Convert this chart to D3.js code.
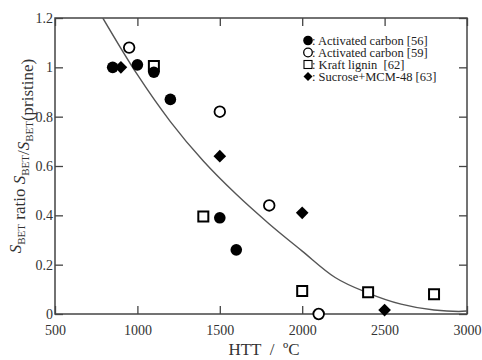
<!DOCTYPE html>
<html>
<head>
<meta charset="utf-8">
<script src="https://cdn.jsdelivr.net/npm/d3@7"></script>
<style>
  body { margin: 0; background: #fff; }
  svg { font-family: "Liberation Serif", "DejaVu Serif", serif; }
</style>
</head>
<body>
<svg id="chart" width="482" height="360"></svg>
<script>
// data
var activated56 = [[850, 1.0], [1000, 1.01], [1100, 0.98], [1200, 0.87], [1500, 0.39], [1600, 0.26]];
var activated59 = [[950, 1.08], [1500, 0.82], [1800, 0.44], [2100, 0.0]];
var kraftLignin = [[1100, 1.005], [1400, 0.395], [2000, 0.093], [2400, 0.088], [2800, 0.08]];
var sucroseMCM = [[900, 1.0], [1500, 0.64], [2000, 0.41], [2500, 0.016]];
// fitted trend line
var fitLine = [[790, 1.2], [1000, 0.97], [1200, 0.78], [1400, 0.62], [1600, 0.485], [1800, 0.365],
               [2000, 0.255], [2200, 0.148], [2400, 0.085], [2600, 0.04], [2800, 0.016], [2950, 0.01], [3000, 0.012]];
var xTicks = [500, 1000, 1500, 2000, 2500, 3000];
var yTicks = [0, 0.2, 0.4, 0.6, 0.8, 1.0, 1.2];
var legendLabels = [": Activated carbon [56]", ": Activated carbon [59]", ": Kraft lignin  [62]", ": Sucrose+MCM-48 [63]"];

var svg = d3.select("#chart");
var plotLeft = 55, plotRight = 467, plotTop = 18, plotBottom = 314;
var axisColor = "#444";

var x = d3.scaleLinear().domain([500, 3000]).range([plotLeft, plotRight]);
var y = d3.scaleLinear().domain([0, 1.2]).range([plotBottom, plotTop]);

// clip for the curve
svg.append("defs").append("clipPath").attr("id", "plotClip")
  .append("rect").attr("x", plotLeft).attr("y", plotTop)
  .attr("width", plotRight - plotLeft).attr("height", plotBottom - plotTop);

function styleAxis(g) {
  g.select(".domain").remove();
  g.selectAll(".tick line").attr("stroke", axisColor).attr("stroke-width", 1.3);
  g.selectAll(".tick text").attr("fill", "#333").attr("font-size", 14)
    .attr("font-family", "Liberation Serif, serif");
}

svg.append("g").attr("transform", "translate(0," + plotBottom + ")")
  .call(d3.axisBottom(x).tickValues(xTicks).tickSize(-8).tickPadding(11).tickFormat(d3.format("d")))
  .call(styleAxis);
svg.append("g").attr("transform", "translate(0," + plotTop + ")")
  .call(d3.axisTop(x).tickValues(xTicks).tickSize(-8).tickFormat(""))
  .call(styleAxis);
svg.append("g").attr("transform", "translate(" + plotLeft + ",0)")
  .call(d3.axisLeft(y).tickValues(yTicks).tickSize(-8).tickPadding(2).tickFormat(function(d) { return String(+d.toFixed(1)); }))
  .call(styleAxis);
svg.append("g").attr("transform", "translate(" + plotRight + ",0)")
  .call(d3.axisRight(y).tickValues(yTicks).tickSize(-8).tickFormat(""))
  .call(styleAxis);

// frame
svg.append("rect")
  .attr("x", plotLeft).attr("y", plotTop)
  .attr("width", plotRight - plotLeft).attr("height", plotBottom - plotTop)
  .attr("fill", "none").attr("stroke", axisColor).attr("stroke-width", 1.5);

// trend curve
var line = d3.line().x(function(d) { return x(d[0]); }).y(function(d) { return y(d[1]); })
  .curve(d3.curveMonotoneX);
svg.append("path")
  .datum(fitLine)
  .attr("clip-path", "url(#plotClip)")
  .attr("d", line)
  .attr("fill", "none")
  .attr("stroke", "#555")
  .attr("stroke-width", 1.4);

// markers
var square = d3.symbol().type(d3.symbolSquare).size(100);
var diamond = d3.symbol().type(d3.symbolSquare).size(80);

svg.append("g").selectAll("path")
  .data(kraftLignin)
  .join("path")
    .attr("d", square)
    .attr("transform", function(d) { return "translate(" + x(d[0]) + "," + y(d[1]) + ")"; })
    .attr("fill", "#fff").attr("stroke", "#000").attr("stroke-width", 2);

svg.append("g").selectAll("circle")
  .data(activated59)
  .join("circle")
    .attr("cx", function(d) { return x(d[0]); })
    .attr("cy", function(d) { return y(d[1]); })
    .attr("r", 5.3)
    .attr("fill", "#fff").attr("stroke", "#000").attr("stroke-width", 1.8);

svg.append("g").selectAll("circle")
  .data(activated56)
  .join("circle")
    .attr("cx", function(d) { return x(d[0]); })
    .attr("cy", function(d) { return y(d[1]); })
    .attr("r", 5.8)
    .attr("fill", "#000");

svg.append("g").selectAll("path")
  .data(sucroseMCM)
  .join("path")
    .attr("d", diamond)
    .attr("transform", function(d) { return "translate(" + x(d[0]) + "," + y(d[1]) + ") rotate(45)"; })
    .attr("fill", "#000");

// legend
var legend = svg.append("g").attr("transform", "translate(308,40.5)");
var rowH = 12;
legend.append("circle").attr("cx", 0).attr("cy", 0).attr("r", 4.8).attr("fill", "#000");
legend.append("circle").attr("cx", 0).attr("cy", rowH).attr("r", 4.3)
  .attr("fill", "#fff").attr("stroke", "#000").attr("stroke-width", 1.3);
legend.append("rect").attr("x", -4).attr("y", 2 * rowH - 4).attr("width", 8).attr("height", 8)
  .attr("fill", "#fff").attr("stroke", "#000").attr("stroke-width", 1.1);
legend.append("path").attr("d", d3.symbol().type(d3.symbolSquare).size(40))
  .attr("transform", "translate(0," + (3 * rowH) + ") rotate(45)").attr("fill", "#000");
legend.selectAll("text")
  .data(legendLabels)
  .join("text")
    .attr("x", 4)
    .attr("y", function(d, i) { return i * rowH; })
    .attr("dy", "0.35em")
    .attr("font-size", 12.5)
    .attr("fill", "#222")
    .style("white-space", "pre")
    .text(function(d) { return d; });

// axis titles
svg.append("text")
  .attr("x", 264).attr("y", 355)
  .attr("text-anchor", "middle")
  .attr("font-size", 17)
  .attr("fill", "#333")
  .style("white-space", "pre")
  .text("HTT  /  \u00baC");

var yt = svg.append("text")
  .attr("transform", "translate(21,156) rotate(-90)")
  .attr("text-anchor", "middle")
  .attr("font-size", 17)
  .attr("fill", "#333");
function sub(t, s) {
  t.append("tspan").attr("font-style", "italic").text("S");
  t.append("tspan").attr("font-size", 11).attr("dy", 4).text(s);
  t.append("tspan").attr("dy", -4).text("");
}
sub(yt, "BET");
yt.append("tspan").text(" ratio ");
sub(yt, "BET");
yt.append("tspan").text("/");
sub(yt, "BET");
yt.append("tspan").text("(pristine)");
</script>
</body>
</html>
